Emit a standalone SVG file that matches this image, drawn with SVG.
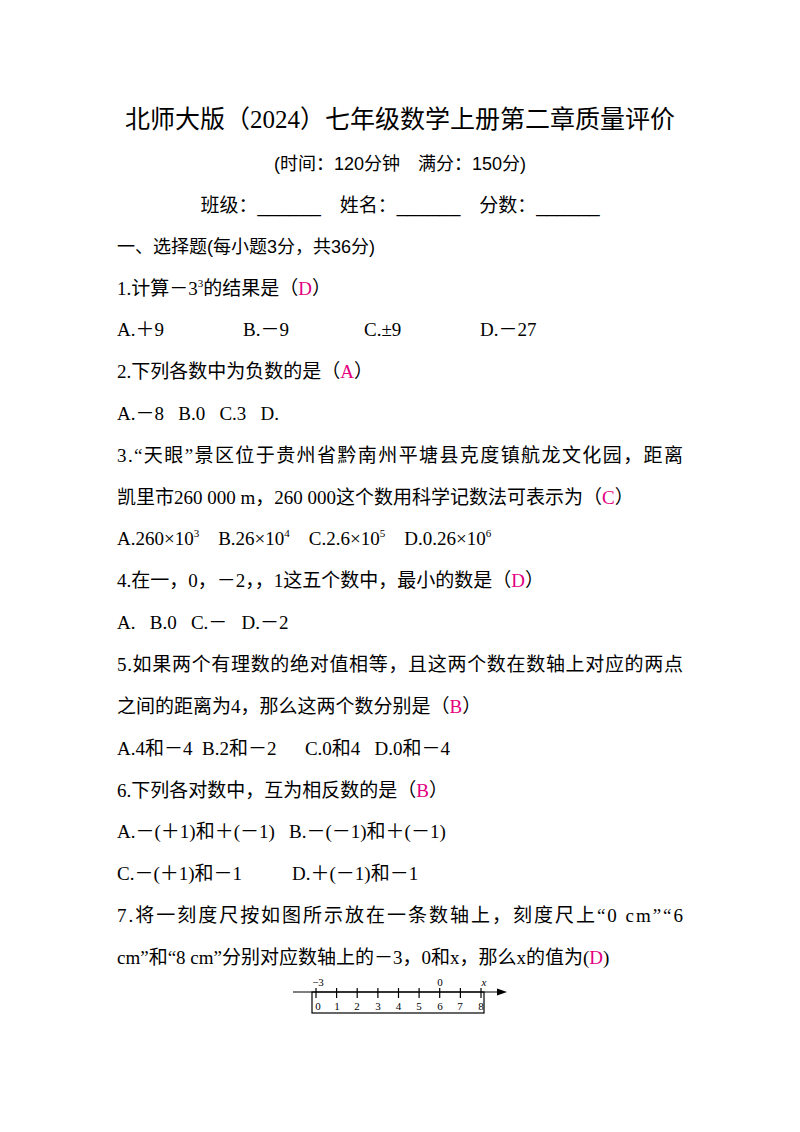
<svg xmlns="http://www.w3.org/2000/svg" width="800" height="1132" viewBox="0 0 800 1132">
<style>
text{font-family:"Liberation Serif","Noto Sans CJK SC",serif;font-size:19px;fill:#000}
.h{font-family:"Liberation Sans","Noto Sans CJK SC",sans-serif}
.p{fill:#e4007f}
.r{font-size:11px}
line{stroke:#000;stroke-width:1.2}
</style>
<rect width="800" height="1132" fill="#fff"/>
<text x="400" y="128" text-anchor="middle" style="font-size:25px">北师大版（2024）七年级数学上册第二章质量评价</text>
<text x="400" y="170" text-anchor="middle" class="h" style="font-size:18px">(时间：120分钟　满分：150分)</text>
<text x="400" y="212" text-anchor="middle" class="h" style="font-size:19px">班级：______　姓名：______　分数：______</text>
<text x="117" y="253" class="h" style="font-size:18px">一、选择题(每小题3分，共36分)</text>
<text x="117" y="295">1.计算－3<tspan dy="-8" font-size="11">3</tspan><tspan dy="8">的结果是（</tspan><tspan class="p">D</tspan>）</text>
<text x="117" y="336">A.＋9</text><text x="243" y="336">B.－9</text><text x="364" y="336">C.±9</text><text x="480" y="336">D.－27</text>
<text x="117" y="378">2.下列各数中为负数的是（<tspan class="p">A</tspan>）</text>
<text x="117" y="420" xml:space="preserve">A.－8   B.0   C.3   D.</text>
<text x="117" y="462" textLength="566">3.“天眼”景区位于贵州省黔南州平塘县克度镇航龙文化园，距离</text>
<text x="117" y="504">凯里市260 000  m，260 000这个数用科学记数法可表示为（<tspan class="p">C</tspan>）</text>
<text x="117" y="545">A.260×10<tspan dy="-8" font-size="11">3</tspan><tspan dy="8">　B.26×10</tspan><tspan dy="-8" font-size="11">4</tspan><tspan dy="8">　C.2.6×10</tspan><tspan dy="-8" font-size="11">5</tspan><tspan dy="8">　D.0.26×10</tspan><tspan dy="-8" font-size="11">6</tspan></text>
<text x="117" y="587">4.在一，0，－2，，1这五个数中，最小的数是（<tspan class="p">D</tspan>）</text>
<text x="117" y="629" xml:space="preserve">A.   B.0   C.－   D.－2</text>
<text x="117" y="671" textLength="566">5.如果两个有理数的绝对值相等，且这两个数在数轴上对应的两点</text>
<text x="117" y="713">之间的距离为4，那么这两个数分别是（<tspan class="p">B</tspan>）</text>
<text x="117" y="755" xml:space="preserve">A.4和－4  B.2和－2      C.0和4   D.0和－4</text>
<text x="117" y="797">6.下列各对数中，互为相反数的是（<tspan class="p">B</tspan>）</text>
<text x="117" y="838" xml:space="preserve">A.－(＋1)和＋(－1)   B.－(－1)和＋(－1)</text>
<text x="117" y="880">C.－(＋1)和－1</text><text x="292" y="880">D.＋(－1)和－1</text>
<text x="117" y="922" textLength="566">7.将一刻度尺按如图所示放在一条数轴上，刻度尺上“0  cm”“6</text>
<text x="117" y="964">cm”和“8 cm”分别对应数轴上的－3，0和x，那么x的值为(<tspan class="p">D</tspan>)</text>
<g id="ruler">
<line x1="293" y1="992" x2="502" y2="992"/>
<path d="M507 992 L497 988.5 L497 995.5Z" fill="#000"/>
<rect x="312" y="992" width="172" height="21" fill="none" stroke="#000" stroke-width="1.2"/>
<g stroke="#000" stroke-width="1.2">
<line x1="316" y1="988" x2="316" y2="998"/><line x1="336.6" y1="988" x2="336.6" y2="998"/><line x1="357.2" y1="988" x2="357.2" y2="998"/><line x1="377.9" y1="988" x2="377.9" y2="998"/><line x1="398.5" y1="988" x2="398.5" y2="998"/><line x1="419.1" y1="988" x2="419.1" y2="998"/><line x1="439.7" y1="988" x2="439.7" y2="998"/><line x1="460.4" y1="988" x2="460.4" y2="998"/><line x1="481" y1="988" x2="481" y2="998"/>
</g>
<g class="r" text-anchor="middle">
<text x="318" y="1010" class="r">0</text><text x="337" y="1010" class="r">1</text><text x="357" y="1010" class="r">2</text><text x="378" y="1010" class="r">3</text><text x="398.5" y="1010" class="r">4</text><text x="419" y="1010" class="r">5</text><text x="440" y="1010" class="r">6</text><text x="460" y="1010" class="r">7</text><text x="481" y="1010" class="r">8</text>
<text x="318" y="986" class="r">−3</text><text x="440" y="986" class="r">0</text><text x="484" y="986" class="r" font-style="italic">x</text>
</g>
</g>
</svg>
